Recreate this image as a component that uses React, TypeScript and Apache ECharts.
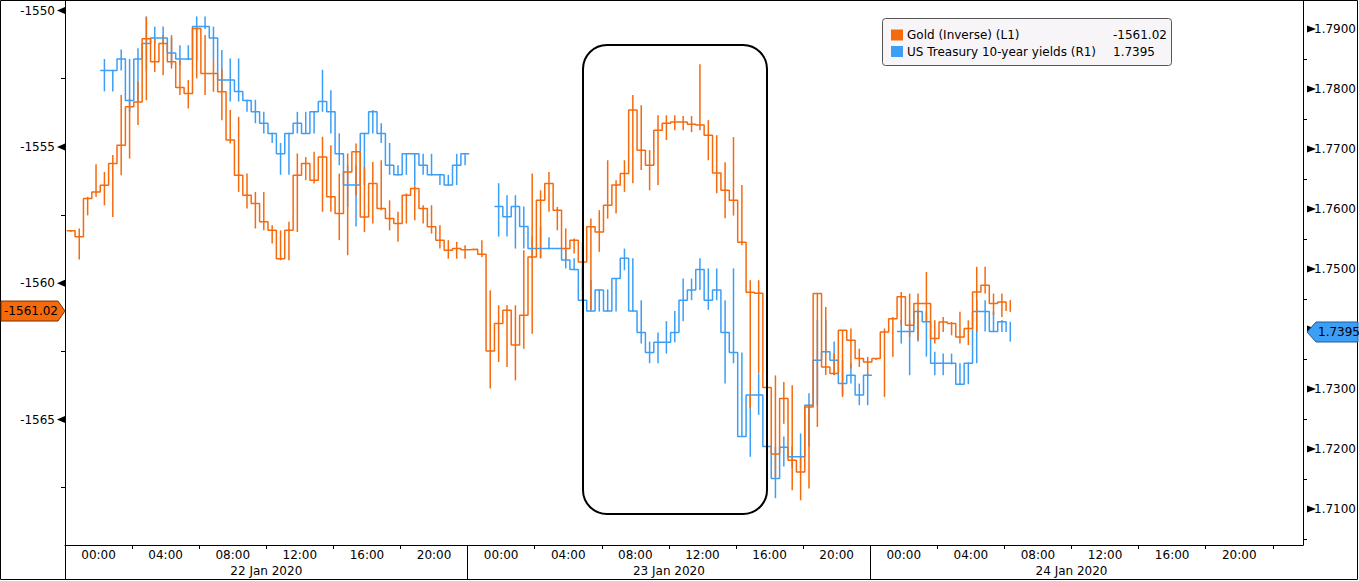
import React, { useEffect, useRef } from 'react';
import * as echarts from 'echarts';

// ---- time base: hours from 22 Jan 2020 00:00, bars every 30 minutes ----
const GOLD_START_HOUR = -2;
const BLUE_START_HOUR = 0;
const BAR_HOURS = 0.5;

const hourLabels = ['00:00', '04:00', '08:00', '12:00', '16:00', '20:00'];
const labelHours = [0, 4, 8, 12, 16, 20, 24, 28, 32, 36, 40, 44, 48, 52, 56, 60, 64, 68];
const tickHours = [2, 6, 10, 14, 18, 26, 30, 34, 38, 42, 50, 54, 58, 62, 66, 70];
const dayBoundaryHours = [22, 46];
const dayLabelHours = [10, 34, 58];
const dayLabels = ['22 Jan 2020', '23 Jan 2020', '24 Jan 2020'];

const leftTicks = [-1565, -1560, -1555, -1550];
const leftMinor = [-1567.5, -1562.5, -1557.5, -1552.5];
const rightTicks = [1.71, 1.72, 1.73, 1.74, 1.75, 1.76, 1.77, 1.78, 1.79];
const rightMinor = [1.705, 1.715, 1.725, 1.735, 1.745, 1.755, 1.765, 1.775, 1.785];

const goldName = 'Gold (Inverse) (L1)';
const blueName = 'US Treasury 10-year yields (R1)';

const goldClose = [
  -1558.08, -1558.30, -1556.89, -1556.65,
  -1556.41, -1555.61, -1554.94, -1553.53, -1553.35, -1551.03, -1551.88, -1551.21, -1551.88, -1552.82, -1553.04, -1550.66,
  -1552.31, -1552.31, -1552.98, -1554.75, -1556.04, -1556.77, -1557.08, -1557.75, -1558.06, -1559.10, -1558.06, -1556.04,
  -1555.61, -1556.22, -1555.37, -1556.83, -1557.44, -1555.92, -1555.18, -1557.57, -1556.34, -1557.26, -1557.63, -1557.81,
  -1556.77, -1556.53, -1557.26, -1557.93, -1558.42, -1558.79, -1558.73, -1558.77, -1558.75, -1558.94, -1562.49, -1561.48,
  -1560.99, -1562.27, -1561.17, -1559.04, -1556.96, -1556.34, -1557.32, -1558.73, -1558.42, -1559.22, -1557.93, -1558.12,
  -1557.14, -1556.40, -1555.98, -1553.65, -1555.12, -1555.67, -1554.39, -1554.13, -1554.09, -1554.09, -1554.17, -1554.20,
  -1554.57, -1555.96, -1556.59, -1556.96, -1558.50, -1560.33, -1560.37, -1563.82, -1566.26, -1564.23, -1566.49, -1566.92,
  -1564.54, -1560.38, -1563.07, -1563.31, -1561.72, -1562.09, -1562.76, -1562.89, -1562.76, -1561.79, -1561.30, -1560.50,
  -1561.54, -1560.74, -1560.74, -1562.03, -1561.42, -1561.48, -1561.97, -1561.66, -1560.32, -1560.07, -1560.74, -1560.69,
  -1561.02,
];
const goldHigh = [
  -1558.06, -1557.99, -1556.83, -1555.64,
  -1555.92, -1555.30, -1553.10, -1553.23, -1552.61, -1550.23, -1551.03, -1550.90, -1550.90, -1551.82, -1552.55, -1550.66,
  -1550.90, -1551.82, -1552.13, -1553.65, -1553.90, -1555.98, -1556.65, -1556.65, -1557.87, -1558.06, -1557.75, -1555.24,
  -1555.37, -1555.18, -1554.63, -1554.94, -1555.98, -1555.24, -1554.88, -1555.73, -1555.55, -1555.49, -1556.96, -1557.38,
  -1556.71, -1556.41, -1557.14, -1557.14, -1557.87, -1558.42, -1558.48, -1558.61, -1558.73, -1558.42, -1560.26, -1560.81,
  -1560.81, -1560.81, -1558.79, -1555.98, -1556.59, -1555.92, -1557.20, -1557.99, -1558.36, -1558.49, -1557.63, -1557.32,
  -1555.49, -1556.22, -1555.49, -1553.10, -1553.47, -1555.12, -1553.84, -1553.84, -1553.84, -1553.87, -1553.87, -1551.97,
  -1554.02, -1554.57, -1555.56, -1554.64, -1556.40, -1559.89, -1559.89, -1561.84, -1563.38, -1563.62, -1563.74, -1566.37,
  -1564.45, -1560.38, -1560.87, -1562.58, -1561.72, -1561.66, -1562.40, -1562.70, -1562.74, -1561.66, -1561.24, -1560.32,
  -1560.38, -1560.38, -1559.59, -1561.36, -1561.24, -1561.42, -1561.05, -1561.36, -1559.40, -1559.40, -1560.38, -1560.38,
  -1560.62,
];
const goldLow = [
  -1558.12, -1559.13, -1557.51, -1556.83,
  -1557.14, -1557.57, -1556.04, -1555.43, -1554.20, -1553.29, -1552.25, -1552.37, -1552.13, -1553.10, -1553.59, -1552.49,
  -1553.10, -1552.98, -1554.02, -1554.88, -1556.65, -1557.26, -1557.99, -1558.06, -1558.54, -1559.16, -1559.16, -1558.12,
  -1556.22, -1556.34, -1557.38, -1557.38, -1558.42, -1558.97, -1556.77, -1558.12, -1557.81, -1557.32, -1558.06, -1558.48,
  -1557.81, -1557.69, -1557.81, -1558.18, -1558.73, -1559.10, -1559.10, -1559.10, -1558.79, -1559.04, -1563.86, -1562.89,
  -1563.07, -1563.56, -1562.40, -1561.85, -1559.09, -1557.38, -1558.06, -1559.16, -1558.91, -1560.26, -1560.99, -1558.85,
  -1557.63, -1557.44, -1556.65, -1556.33, -1555.85, -1556.59, -1556.40, -1554.75, -1554.39, -1554.39, -1554.46, -1554.39,
  -1555.49, -1556.70, -1557.62, -1557.52, -1558.61, -1564.59, -1563.30, -1563.93, -1567.11, -1565.15, -1567.59, -1567.96,
  -1567.53, -1565.27, -1563.37, -1563.37, -1564.17, -1563.13, -1563.07, -1563.37, -1562.82, -1564.17, -1562.70, -1561.54,
  -1561.97, -1562.09, -1561.42, -1562.21, -1561.79, -1561.91, -1562.21, -1562.27, -1561.79, -1560.38, -1561.17, -1561.24,
  -1561.05,
];

const blueClose = [
  1.7831, 1.7831, 1.7850, 1.7781, 1.7850, 1.7876, 1.7885, 1.7885, 1.7860, 1.7850, 1.7850, 1.7904,
  1.7904, 1.7885, 1.7815, 1.7815, 1.7796, 1.7781, 1.7762, 1.7743, 1.7726, 1.7692, 1.7726, 1.7743,
  1.7726, 1.7762, 1.7779, 1.7762, 1.7692, 1.7640, 1.7640, 1.7726, 1.7762, 1.7726, 1.7673, 1.7657,
  1.7692, 1.7692, 1.7673, 1.7657, 1.7657, 1.7640, 1.7673, 1.7692, null, null, null, 1.7604,
  1.7587, 1.7604, 1.7571, 1.7534, 1.7534, 1.7534, 1.7534, 1.7515, 1.7499, 1.7448, 1.7430, 1.7465,
  1.7430, 1.7484, 1.7518, 1.7430, 1.7394, 1.7361, 1.7378, 1.7378, 1.7394, 1.7448, 1.7465, 1.7499,
  1.7448, 1.7465, 1.7394, 1.7361, 1.7221, 1.7290, 1.7290, 1.7204, 1.7151, 1.7203, 1.7187, 1.7187,
  1.7273, 1.7348, 1.7362, 1.7348, 1.7309, 1.7323, 1.7290, 1.7323, null, null, null, 1.7396,
  1.7396, 1.7429, 1.7412, 1.7343, 1.7343, 1.7343, 1.7308, 1.7343, 1.7429, 1.7429, 1.7396, 1.7412,
  1.7395,
];
const blueHigh = [
  1.7850, 1.7832, 1.7866, 1.7850, 1.7868, 1.7921, 1.7904, 1.7904, 1.7885, 1.7873, 1.7873, 1.7921,
  1.7921, 1.7904, 1.7865, 1.7851, 1.7851, 1.7782, 1.7782, 1.7762, 1.7727, 1.7710, 1.7727, 1.7762,
  1.7762, 1.7763, 1.7832, 1.7798, 1.7726, 1.7673, 1.7673, 1.7727, 1.7765, 1.7743, 1.7710, 1.7673,
  1.7693, 1.7693, 1.7692, 1.7692, 1.7657, 1.7657, 1.7692, 1.7693, null, null, null, 1.7643,
  1.7623, 1.7623, 1.7604, 1.7554, 1.7571, 1.7553, 1.7535, 1.7534, 1.7518, 1.7501, 1.7482, 1.7466,
  1.7466, 1.7485, 1.7534, 1.7518, 1.7448, 1.7379, 1.7394, 1.7413, 1.7430, 1.7484, 1.7484, 1.7518,
  1.7501, 1.7501, 1.7448, 1.7501, 1.7361, 1.7291, 1.7326, 1.7326, 1.7204, 1.7221, 1.7204, 1.7226,
  1.7293, 1.7415, 1.7415, 1.7379, 1.7348, 1.7343, 1.7309, 1.7326, null, null, null, 1.7415,
  1.7415, 1.7432, 1.7429, 1.7362, 1.7359, 1.7359, 1.7343, 1.7344, 1.7448, 1.7448, 1.7429, 1.7415,
  1.7412,
];
const blueLow = [
  1.7796, 1.7796, 1.7831, 1.7762, 1.7779, 1.7832, 1.7876, 1.7876, 1.7840, 1.7840, 1.7848, 1.7848,
  1.7900, 1.7848, 1.7796, 1.7779, 1.7779, 1.7762, 1.7743, 1.7726, 1.7710, 1.7657, 1.7657, 1.7726,
  1.7725, 1.7726, 1.7762, 1.7726, 1.7673, 1.7604, 1.7571, 1.7640, 1.7726, 1.7710, 1.7657, 1.7656,
  1.7657, 1.7640, 1.7657, 1.7656, 1.7640, 1.7639, 1.7640, 1.7673, null, null, null, 1.7554,
  1.7554, 1.7534, 1.7534, 1.7518, 1.7518, 1.7533, 1.7533, 1.7501, 1.7498, 1.7445, 1.7429, 1.7429,
  1.7429, 1.7429, 1.7498, 1.7429, 1.7376, 1.7343, 1.7343, 1.7359, 1.7378, 1.7413, 1.7448, 1.7465,
  1.7432, 1.7448, 1.7309, 1.7343, 1.7220, 1.7187, 1.7257, 1.7187, 1.7118, 1.7171, 1.7168, 1.7168,
  1.7204, 1.7273, 1.7359, 1.7323, 1.7290, 1.7309, 1.7273, 1.7273, null, null, null, 1.7376,
  1.7323, 1.7379, 1.7354, 1.7323, 1.7323, 1.7341, 1.7308, 1.7308, 1.7343, 1.7396, 1.7395, 1.7395,
  1.7379,
];

const ORANGE = '#F56A0C';
const BLUE = '#3D9EF6';
const FONT = 'DejaVu Sans';

function stepData(start: number, close: (number | null)[]) {
  return close.map((v, i) => [start + i * BAR_HOURS + 0.1, v]);
}
function spikeData(start: number, lo: (number | null)[], hi: (number | null)[]) {
  const out: number[][] = [];
  lo.forEach((l, i) => {
    const h = hi[i];
    if (l == null || h == null) return;
    out.push([start + i * BAR_HOURS + 0.35, l, h]);
  });
  return out;
}
function spikeSeries(color: string, yAxisIndex: number, data: number[][]) {
  return {
    type: 'custom',
    xAxisIndex: 0,
    yAxisIndex,
    data,
    encode: { x: 0, y: [1, 2] },
    silent: true,
    renderItem: (params: any, api: any) => {
      const x = api.value(0);
      const p1 = api.coord([x, api.value(1)]);
      const p2 = api.coord([x, api.value(2)]);
      return {
        type: 'line',
        shape: { x1: p1[0], y1: p1[1], x2: p2[0], y2: p2[1] },
        style: { stroke: color, lineWidth: 1.5 },
      };
    },
  };
}

const X_MIN = -2;
const X_MAX = 71.8;

export default function App() {
  const ref = useRef<HTMLDivElement>(null);
  useEffect(() => {
    const el = ref.current;
    if (!el) return;
    const chart = echarts.init(el, null, { renderer: 'svg' });
    const axisText = { color: '#000', fontFamily: FONT, fontSize: 12 };
    const goldLast = goldClose[goldClose.length - 1];
    const blueLast = blueClose[blueClose.length - 1] as number;
    // right-axis labels hidden beneath the last-value tag are left out
    const rightLabelValues = rightTicks.filter((v) => Math.abs(v - blueLast) > 0.0025);
    chart.setOption({
      animation: false,
      backgroundColor: '#ffffff',
      textStyle: { fontFamily: FONT },
      grid: { left: 65, right: 52, top: 1, bottom: 36, containLabel: false },
      xAxis: [
        {
          type: 'value', min: X_MIN, max: X_MAX, position: 'bottom',
          axisLine: { show: true, onZero: false, lineStyle: { color: '#000', width: 1 } },
          axisTick: { show: true, customValues: tickHours, length: 4, lineStyle: { color: '#000' } },
          axisLabel: {
            ...axisText, margin: 4, customValues: labelHours,
            formatter: (v: number) => hourLabels[Math.round(v / 4) % 6],
          },
          splitLine: { show: false },
        },
        {
          type: 'value', min: X_MIN, max: X_MAX, position: 'bottom',
          axisLine: { show: false, onZero: false },
          axisTick: { show: true, customValues: dayBoundaryHours, length: 35, lineStyle: { color: '#000' } },
          axisLabel: {
            ...axisText, margin: 20, customValues: dayLabelHours,
            formatter: (v: number) => dayLabels[Math.round((v - dayLabelHours[0]) / 24)],
          },
          splitLine: { show: false },
        },
      ],
      yAxis: [
        {
          type: 'value', position: 'left', min: -1569.6, max: -1549.65,
          axisLine: { show: true, onZero: false, lineStyle: { color: '#000' } },
          axisTick: { show: true, customValues: leftMinor, length: 4, lineStyle: { color: '#000' } },
          axisLabel: { ...axisText, margin: 10, customValues: leftTicks, formatter: (v: number) => String(v) },
          splitLine: { show: false },
        },
        {
          type: 'value', position: 'right', min: 1.704, max: 1.79467,
          axisLine: { show: true, onZero: false, lineStyle: { color: '#000' } },
          axisTick: { show: true, customValues: rightMinor, length: 4, lineStyle: { color: '#000' } },
          axisLabel: { ...axisText, margin: 11, customValues: rightLabelValues, formatter: (v: number) => v.toFixed(4) },
          splitLine: { show: false },
        },
      ],
      series: [
        {
          name: blueName, type: 'line', xAxisIndex: 0, yAxisIndex: 1, step: 'end',
          showSymbol: false, symbol: 'none', connectNulls: false,
          lineStyle: { color: BLUE, width: 1.5 }, data: stepData(BLUE_START_HOUR, blueClose), silent: true,
        },
        spikeSeries(BLUE, 1, spikeData(BLUE_START_HOUR, blueLow, blueHigh)),
        {
          name: goldName, type: 'line', xAxisIndex: 0, yAxisIndex: 0, step: 'end',
          showSymbol: false, symbol: 'none',
          lineStyle: { color: ORANGE, width: 1.5 }, data: stepData(GOLD_START_HOUR, goldClose), silent: true,
        },
        spikeSeries(ORANGE, 0, spikeData(GOLD_START_HOUR, goldLow, goldHigh)),
      ],
    });

    const yG = chart.convertToPixel({ yAxisIndex: 0 }, goldLast) as number;
    const yB = chart.convertToPixel({ yAxisIndex: 1 }, blueLast) as number;
    const goldTxt = goldLast.toFixed(2);
    const blueTxt = blueLast.toFixed(4);

    const txt = (x: number, y: number, text: string, align = 'left', fill = '#000') => ({
      type: 'text', x, y, silent: true, z: 200,
      style: {
        text, fill, fontFamily: FONT, fontSize: 12,
        align, verticalAlign: 'middle', textAlign: align, textVerticalAlign: 'middle',
      },
    });

    const graphics: any[] = [];
    graphics.push({ type: 'rect', silent: true, z: 150, shape: { x: 0.5, y: 0.5, width: 1357, height: 579 }, style: { fill: 'none', stroke: '#000', lineWidth: 1 } });
    graphics.push({ type: 'line', silent: true, z: 150, shape: { x1: 65.5, y1: 545, x2: 65.5, y2: 580 }, style: { stroke: '#000', lineWidth: 1 } });
    leftTicks.forEach((v) => {
      const y = chart.convertToPixel({ yAxisIndex: 0 }, v) as number;
      graphics.push({ type: 'polygon', silent: true, z: 150, shape: { points: [[57, y], [65, y - 3.5], [65, y + 3.5]] }, style: { fill: '#000' } });
    });
    rightTicks.forEach((v) => {
      const y = chart.convertToPixel({ yAxisIndex: 1 }, v) as number;
      graphics.push({ type: 'polygon', silent: true, z: 150, shape: { points: [[1307, y - 3.5], [1316, y], [1307, y + 3.5]] }, style: { fill: '#000' } });
    });
    graphics.push({ type: 'rect', silent: true, z: 150, shape: { x: 583, y: 45, width: 184, height: 469, r: 24 }, style: { fill: 'none', stroke: '#000', lineWidth: 2 } });
    // last-value tags
    graphics.push({ type: 'polygon', silent: true, z: 190, shape: { points: [[1, yG - 10], [58, yG - 10], [65, yG], [58, yG + 10], [1, yG + 10]] }, style: { fill: ORANGE, stroke: '#7a3300', lineWidth: 1 } });
    graphics.push(txt(31, yG, goldTxt, 'center'));
    graphics.push({ type: 'polygon', silent: true, z: 190, shape: { points: [[1307, yB], [1316, yB - 10], [1358, yB - 10], [1358, yB + 10], [1316, yB + 10]] }, style: { fill: BLUE, stroke: '#1d5f9e', lineWidth: 1 } });
    graphics.push(txt(1318, yB, blueTxt, 'left'));
    // legend
    graphics.push({ type: 'rect', silent: true, z: 180, shape: { x: 882.5, y: 18.5, width: 289, height: 47, r: 3 }, style: { fill: '#F8F5F8', stroke: '#555', lineWidth: 1 } });
    graphics.push({ type: 'rect', silent: true, z: 190, shape: { x: 891, y: 29.5, width: 12, height: 11 }, style: { fill: ORANGE } });
    graphics.push({ type: 'rect', silent: true, z: 190, shape: { x: 891, y: 46, width: 12, height: 11 }, style: { fill: BLUE } });
    graphics.push(txt(907, 35, goldName));
    graphics.push(txt(1113, 35, goldTxt));
    graphics.push(txt(907, 51.5, blueName));
    graphics.push(txt(1113, 51.5, blueTxt));

    chart.setOption({ graphic: graphics });
    return () => chart.dispose();
  }, []);
  return <div ref={ref} style={{ position: 'fixed', left: 0, top: 0, width: 1359, height: 581, background: '#fff' }} />;
}
